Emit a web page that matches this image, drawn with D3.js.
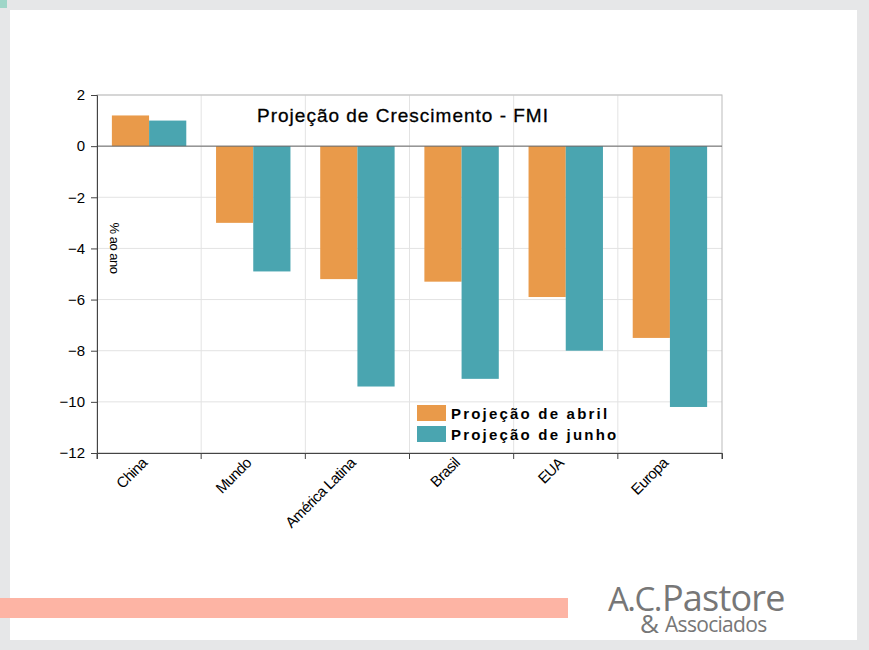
<!DOCTYPE html>
<html><head><meta charset="utf-8">
<script src="https://cdn.jsdelivr.net/npm/d3@7"></script>
<style>body{margin:0;background:#e6e7e8;}svg{display:block;}</style>
</head><body>
<svg id="c" width="869" height="650"></svg>
<script>
const categories = ["China","Mundo","América Latina","Brasil","EUA","Europa"];
const seriesNames = ["Projeção de abril","Projeção de junho"];
const abril = [1.2,-3.0,-5.2,-5.3,-5.9,-7.5];
const junho = [1.0,-4.9,-9.4,-9.1,-8.0,-10.2];
const yTicks = [2,0,-2,-4,-6,-8,-10,-12];
const colors = ["#e99a4a","#4aa5b0"];

const svg = d3.select("#c");
svg.append("rect").attr("x",10).attr("y",10).attr("width",847).attr("height",630).attr("fill","#fff");
svg.append("rect").attr("x",0).attr("y",0).attr("width",7).attr("height",8).attr("fill","#9fd6c8");

const L=97,R=722,T=95,B=453;
const x = d3.scaleBand().domain(categories).range([L,R]);
const y = d3.scaleLinear().domain([-12,2]).range([B,T]);
const xs = d3.scaleBand().domain([0,1]).range([0,x.bandwidth()]).paddingOuter(0.4).paddingInner(0);

const g = svg.append("g");
g.selectAll(".hg").data(yTicks).join("line").attr("x1",L).attr("x2",R)
 .attr("y1",d=>y(d)).attr("y2",d=>y(d)).attr("stroke","#e3e3e3");
g.selectAll(".vg").data(categories.slice(1)).join("line").attr("y1",T).attr("y2",B)
 .attr("x1",d=>x(d)).attr("x2",d=>x(d)).attr("stroke","#e3e3e3");
svg.append("rect").attr("x",L).attr("y",T).attr("width",R-L).attr("height",B-T)
 .attr("fill","none").attr("stroke","#bbb");

[abril,junho].forEach((s,i)=>{
  svg.append("g").selectAll("rect").data(s).join("rect")
   .attr("x",(d,j)=>x(categories[j])+xs(i)).attr("width",xs.bandwidth())
   .attr("y",d=>y(Math.max(0,d))).attr("height",d=>Math.abs(y(d)-y(0)))
   .attr("fill",colors[i]);
});
svg.append("line").attr("x1",L).attr("x2",R).attr("y1",y(0)).attr("y2",y(0)).attr("stroke","#666");

const ya = svg.append("g").attr("transform",`translate(${L},0)`)
 .call(d3.axisLeft(y).tickValues(yTicks).tickSize(6).tickFormat(d3.format("d")));
ya.select(".domain").attr("stroke","#444");
ya.selectAll("text").attr("font-family","Liberation Sans, Arial").attr("font-size",15).attr("fill","#000").attr("x",-12);
ya.selectAll("line").attr("stroke","#444");

const xa = svg.append("g").attr("transform",`translate(0,${B})`)
 .call(d3.axisBottom(x).tickSize(6).tickFormat(""));
xa.select(".domain").attr("stroke","#444");
xa.selectAll("line").attr("stroke","#444").attr("transform",`translate(${-x.bandwidth()/2},0)`);
svg.append("line").attr("x1",R).attr("x2",R).attr("y1",B).attr("y2",B+6).attr("stroke","#444");
svg.append("g").selectAll("text").data(categories).join("text")
 .attr("transform",d=>`translate(${x(d)+x.bandwidth()/2-1},${B+11}) rotate(-45)`)
 .attr("text-anchor","end").attr("font-family","Liberation Sans, Arial").attr("font-size",15)
 .attr("letter-spacing","-0.6").text(d=>d);

svg.append("text").attr("x",403).attr("y",122).attr("text-anchor","middle")
 .attr("font-family","Liberation Sans, Arial").attr("font-size",19).attr("letter-spacing","1")
 .attr("stroke","#000").attr("stroke-width",0.3).text("Projeção de Crescimento - FMI");
svg.append("text").attr("transform","translate(110,248) rotate(90)").attr("text-anchor","middle")
 .attr("font-family","Liberation Sans, Arial").attr("font-size",13).attr("letter-spacing","-0.5").text("% ao ano");

const lg = svg.append("g");
seriesNames.forEach((n,i)=>{
  lg.append("rect").attr("x",417).attr("y",405+i*21).attr("width",29).attr("height",16).attr("fill",colors[i]);
  lg.append("text").attr("x",451).attr("y",419+i*21).attr("font-family","Liberation Sans, Arial")
   .attr("font-weight","bold").attr("font-size",15).attr("letter-spacing","2.2").text(n);
});

svg.append("rect").attr("x",0).attr("y",598).attr("width",568).attr("height",20).attr("fill","#fdb4a4");
const logo = {f:"Open Sans, sans-serif",c:"#777"};
svg.append("text").attr("x",608).attr("y",611).attr("font-family",logo.f).attr("font-size",33)
 .attr("fill",logo.c).attr("letter-spacing","-1.5").text("A.C.");
svg.append("text").attr("x",662).attr("y",611).attr("font-family",logo.f).attr("font-size",36)
 .attr("fill",logo.c).attr("letter-spacing","-0.8").text("Pastore");
svg.append("text").attr("x",640).attr("y",633).attr("font-family",logo.f).attr("font-size",26)
 .attr("fill",logo.c).text("&");
svg.append("text").attr("x",665).attr("y",632).attr("font-family",logo.f).attr("font-size",21)
 .attr("fill",logo.c).attr("letter-spacing","-0.7").text("Associados");
</script>
</body></html>
